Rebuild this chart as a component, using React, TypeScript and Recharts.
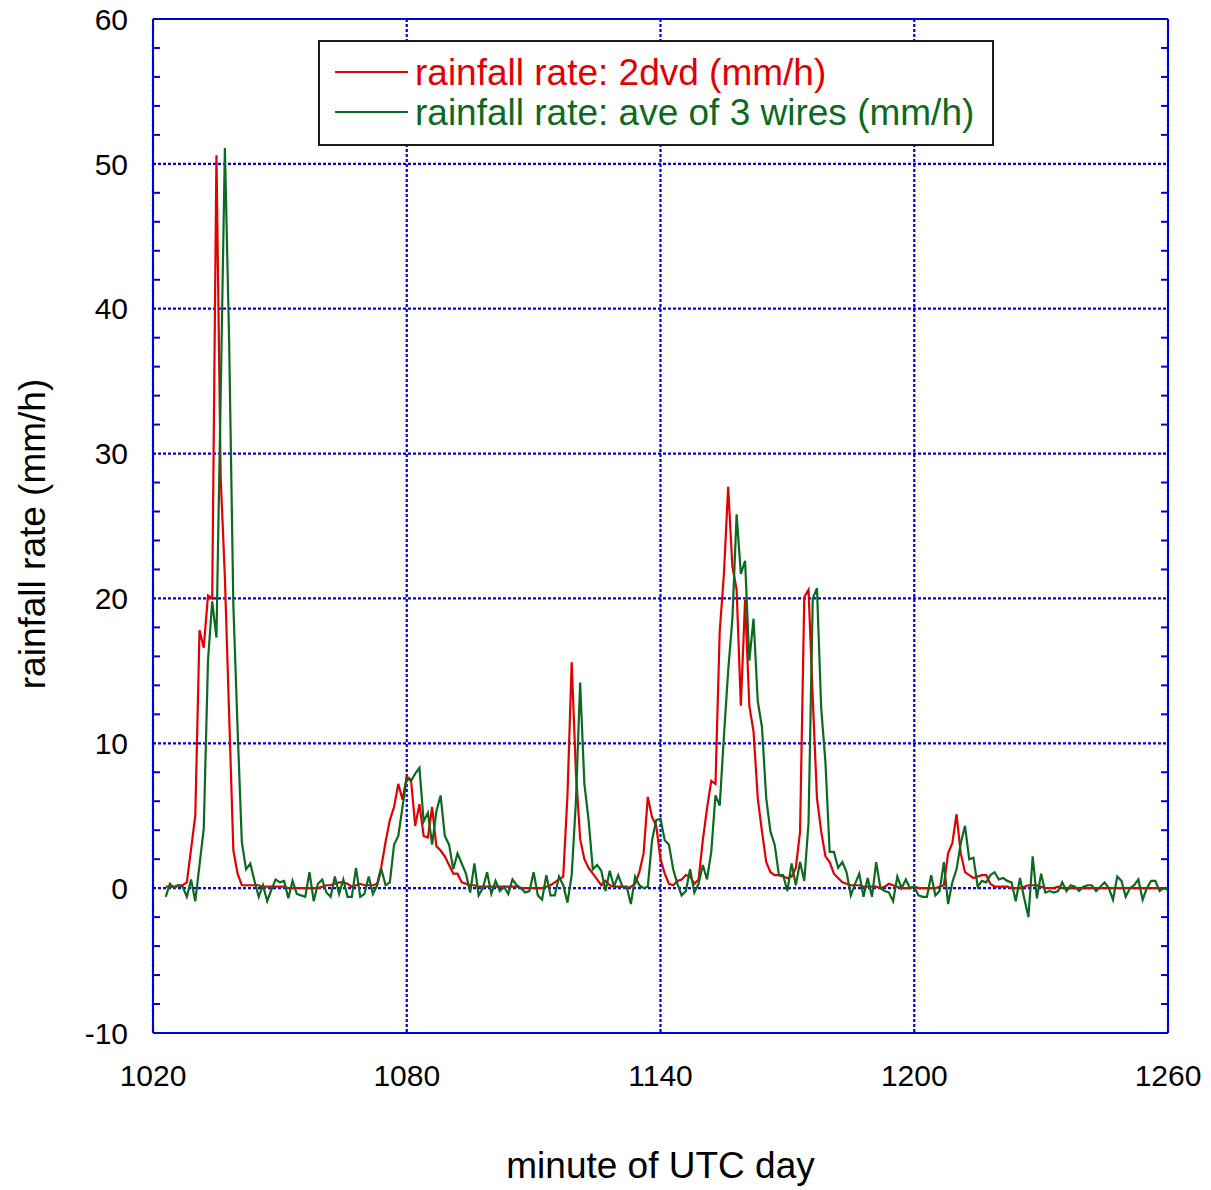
import { CartesianGrid, Label, Legend, Line, LineChart, XAxis, YAxis } from 'recharts';

// one sample per minute, starting at minute 1023 of the UTC day
const START_MINUTE = 1023;

// rainfall rate from the 2DVD (mm/h)
const RAIN_2DVD = [
  0.1, 0.1, 0.1, 0.2, 0.2, 0.4, 2.7, 5.0, 17.8, 16.6, // 1023
  20.2, 20.0, 50.6, 28.4, 21.4, 12.0, 2.6, 1.0, 0.2, 0.2, // 1033
  0.2, 0.2, 0.2, 0.1, 0.1, 0.1, 0.1, 0.1, 0.1, 0.0, // 1043
  0.0, 0.0, 0.0, 0.0, 0.0, 0.0, 0.0, 0.1, 0.2, 0.2, // 1053
  0.3, 0.4, 0.4, 0.3, 0.1, 0.2, 0.3, 0.2, 0.2, 0.2, // 1063
  0.3, 1.5, 3.2, 4.7, 5.6, 7.2, 6.1, 7.7, 7.5, 4.3, // 1073
  5.8, 3.6, 3.5, 5.6, 2.9, 2.6, 2.2, 1.6, 1.0, 1.0, // 1083
  0.4, 0.3, 0.2, 0.2, 0.1, 0.1, 0.1, 0.1, 0.1, 0.1, // 1093
  0.1, 0.1, 0.1, 0.1, 0.0, 0.0, 0.0, 0.0, 0.0, 0.0, // 1103
  0.1, 0.2, 0.4, 0.6, 0.8, 6.4, 15.6, 8.0, 3.4, 2.0, // 1113
  1.4, 1.0, 0.6, 0.2, 0.5, 0.2, 0.1, 0.1, 0.1, 0.0, // 1123
  0.1, 0.3, 1.1, 2.4, 6.3, 4.9, 4.3, 2.0, 1.0, 0.3, // 1133
  0.2, 0.5, 0.6, 0.9, 0.8, 0.3, 0.6, 3.3, 5.5, 7.4, // 1143
  7.2, 17.7, 21.7, 27.7, 22.2, 20.6, 12.6, 19.9, 12.6, 10.8, // 1153
  6.2, 3.9, 1.8, 1.1, 0.9, 0.9, 0.8, 0.7, 0.8, 1.4, // 1163
  3.9, 20.1, 20.6, 13.1, 6.2, 3.9, 2.2, 1.8, 1.0, 0.7, // 1173
  0.4, 0.3, 0.2, 0.2, 0.2, 0.1, 0.1, 0.1, 0.1, 0.0, // 1183
  0.1, 0.3, 0.2, 0.1, 0.0, 0.0, 0.0, 0.1, 0.0, 0.0, // 1193
  0.0, 0.0, 0.0, 0.1, 0.2, 2.4, 3.1, 5.1, 2.4, 1.1, // 1203
  0.9, 0.7, 0.8, 0.9, 0.9, 0.3, 0.1, 0.1, 0.1, 0.1, // 1213
  0.0, 0.0, 0.0, 0.1, 0.2, 0.2, 0.2, 0.1, 0.0, 0.0, // 1223
  0.0, 0.1, 0.0, 0.0, 0.0, 0.0, 0.0, 0.0, 0.0, 0.0, // 1233
  0.0, 0.0, 0.0, 0.0, 0.0, 0.0, 0.0, 0.0, 0.0, 0.0, // 1243
  0.0, 0.0, 0.0, 0.0, 0.0, 0.0, 0.0, 0.0, // 1253
];

// rainfall rate, average of the 3 wires (mm/h)
const RAIN_WIRES = [
  -0.6, 0.3, 0.0, 0.2, 0.1, -0.6, 0.6, -0.9, 1.6, 4.1, // 1023
  15.7, 19.8, 17.3, 34.0, 51.1, 37.8, 19.5, 11.0, 3.2, 1.3, // 1033
  1.7, 0.5, -0.6, 0.2, -0.9, -0.1, 0.6, 0.4, 0.5, -0.7, // 1043
  0.5, -0.4, -0.5, -0.6, 1.1, -0.9, 0.3, 0.6, -0.3, -0.6, // 1053
  0.8, -0.4, 0.6, -0.6, -0.6, 1.4, -0.6, -0.4, 0.8, -0.4, // 1063
  0.2, 1.3, 0.2, 0.4, 3.0, 3.6, 5.6, 7.6, 7.4, 7.9, // 1073
  8.3, 4.6, 5.2, 3.0, 5.3, 6.4, 3.6, 3.0, 1.3, 2.4, // 1083
  1.7, 1.0, -0.3, 1.7, -0.5, 0.0, 1.1, -0.4, 0.5, -0.2, // 1093
  0.1, -0.4, 0.6, 0.2, 0.0, -0.3, -0.2, 1.1, -0.5, -0.8, // 1103
  0.9, -0.5, -0.5, 0.8, 0.2, -1.0, 0.9, 6.0, 14.2, 7.2, // 1113
  4.7, 1.3, 1.6, 1.2, -0.2, 1.2, 0.1, 0.9, 0.1, 0.1, // 1123
  -1.1, 0.8, 0.2, 0.0, 0.1, 3.3, 4.7, 4.8, 3.3, 3.0, // 1133
  1.3, 0.3, -0.5, -0.2, 1.3, -0.3, 0.3, 1.6, 0.6, 2.5, // 1143
  6.4, 5.7, 10.5, 15.0, 18.6, 25.8, 21.7, 22.6, 15.7, 18.6, // 1153
  12.9, 11.1, 6.2, 3.9, 3.0, 0.9, 0.9, -0.2, 1.7, 0.2, // 1163
  1.8, 0.5, 4.5, 20.0, 20.7, 12.4, 8.7, 2.5, 2.5, 1.4, // 1173
  1.8, 1.1, -0.5, 0.3, 1.0, -0.6, 0.7, -0.6, 1.8, 0.0, // 1183
  -0.2, -0.3, -0.9, 0.8, 0.0, 0.6, 0.0, 0.1, -0.5, -0.6, // 1193
  -0.6, 0.9, -0.5, -0.2, 1.8, -1.1, 0.4, 1.3, 3.1, 4.3, // 1203
  2.0, 2.1, 0.1, 0.5, 0.4, 0.9, 1.1, 0.6, 0.7, 0.5, // 1213
  0.4, -0.9, 0.7, -0.7, -2.0, 2.2, -0.7, 1.0, -0.3, -0.2, // 1223
  -0.3, -0.2, 0.4, -0.2, 0.2, 0.1, -0.2, 0.1, 0.2, 0.2, // 1233
  -0.2, 0.1, 0.4, 0.0, -0.8, 0.8, 0.5, -0.6, 0.0, 0.2, // 1243
  0.6, -0.8, 0.0, 0.5, 0.5, -0.2, 0.0, -0.1, // 1253
];

const X_TICKS = [1020, 1080, 1140, 1200, 1260];
const X_MINOR_TICKS = [
  1030, 1040, 1050, 1060, 1070, 1090, 1100, 1110, 1120, 1130, 1150, 1160, 1170, 1180, 1190,
  1210, 1220, 1230, 1240, 1250,
];
const Y_TICKS = [-10, 0, 10, 20, 30, 40, 50, 60];
const Y_MINOR_TICKS = [
  -8, -6, -4, -2, 2, 4, 6, 8, 12, 14, 16, 18, 22, 24, 26, 28, 32, 34, 36, 38, 42, 44, 46, 48,
  52, 54, 56, 58,
];

const LEGEND_2DVD = 'rainfall rate: 2dvd (mm/h)';
const LEGEND_WIRES = 'rainfall rate: ave of 3 wires (mm/h)';

const RED = '#e20000';
const GREEN = '#0b6a1f';
const BLUE = '#0000dd';
const FONT = '"Liberation Sans", Arial, Helvetica, sans-serif';

const data = RAIN_2DVD.map((v, i) => ({
  minute: START_MINUTE + i,
  dvd: v,
  wires: RAIN_WIRES[i],
}));

// minor axes only draw their tick marks, no labels
const noLabel = () => <g />;

function LegendBox() {
  return (
    <div
      style={{
        width: 676,
        height: 106,
        boxSizing: 'border-box',
        border: '2px solid #1a1a1a',
        background: '#fff',
      }}
    >
      <svg width={672} height={102} style={{ display: 'block' }}>
        <line x1={15} x2={88} y1={30} y2={30} stroke={RED} strokeWidth={2} />
        <text x={95} y={43} fill={RED} fontSize={37} fontFamily={FONT}>
          {LEGEND_2DVD}
        </text>
        <line x1={15} x2={88} y1={70} y2={70} stroke={GREEN} strokeWidth={2} />
        <text x={95} y={83} fill={GREEN} fontSize={37} fontFamily={FONT}>
          {LEGEND_WIRES}
        </text>
      </svg>
    </div>
  );
}

export default function App() {
  const tickStyle = { fill: '#000', fontSize: 30, fontFamily: FONT };
  const minorLine = { stroke: BLUE, strokeWidth: 2 };
  const frame = { stroke: BLUE, strokeWidth: 2 };

  return (
    <div style={{ position: 'absolute', left: 0, top: 0, width: 1211, height: 1190, background: '#fff' }}>
      <LineChart
        width={1211}
        height={1190}
        data={data}
        margin={{ top: 19, right: 43, bottom: 0, left: 0 }}
      >
        <CartesianGrid stroke={BLUE} strokeWidth={2.2} strokeDasharray="3 2" />

        <XAxis
          dataKey="minute"
          type="number"
          domain={[1020, 1260]}
          ticks={X_TICKS}
          interval={0}
          height={157}
          tickLine={false}
          tickSize={0}
          tickMargin={32}
          axisLine={frame}
          tick={tickStyle}
          allowDataOverflow
        >
          <Label
            content={({ viewBox }: any) => (
              <text
                x={viewBox.x + viewBox.width / 2}
                y={viewBox.y + 145}
                textAnchor="middle"
                fontSize={37}
                fontFamily={FONT}
                fill="#000"
              >
                minute of UTC day
              </text>
            )}
          />
        </XAxis>
        <XAxis
          xAxisId="minorBottom"
          type="number"
          domain={[1020, 1260]}
          ticks={X_MINOR_TICKS}
          interval={0}
          orientation="bottom"
          mirror
          axisLine={false}
          tick={noLabel}
          tickSize={7}
          tickLine={minorLine}
          allowDataOverflow
        />
        <XAxis
          xAxisId="minorTop"
          type="number"
          domain={[1020, 1260]}
          ticks={X_MINOR_TICKS}
          interval={0}
          orientation="top"
          mirror
          axisLine={frame}
          tick={noLabel}
          tickSize={7}
          tickLine={minorLine}
          allowDataOverflow
        />

        <YAxis
          type="number"
          domain={[-10, 60]}
          ticks={Y_TICKS}
          interval={0}
          width={153}
          tickLine={false}
          tickSize={0}
          tickMargin={25}
          axisLine={frame}
          tick={tickStyle}
          allowDataOverflow
        >
          <Label
            content={({ viewBox }: any) => {
              const cx = 45;
              const cy = viewBox.y + viewBox.height / 2 + 8;
              return (
                <text
                  x={cx}
                  y={cy}
                  transform={`rotate(-90, ${cx}, ${cy})`}
                  textAnchor="middle"
                  fontSize={37}
                  fontFamily={FONT}
                  fill="#000"
                >
                  rainfall rate (mm/h)
                </text>
              );
            }}
          />
        </YAxis>
        <YAxis
          yAxisId="minorLeft"
          type="number"
          domain={[-10, 60]}
          ticks={Y_MINOR_TICKS}
          interval={0}
          orientation="left"
          mirror
          axisLine={false}
          tick={noLabel}
          tickSize={7}
          tickLine={minorLine}
          allowDataOverflow
        />
        <YAxis
          yAxisId="minorRight"
          type="number"
          domain={[-10, 60]}
          ticks={Y_MINOR_TICKS}
          interval={0}
          orientation="right"
          mirror
          axisLine={frame}
          tick={noLabel}
          tickSize={7}
          tickLine={minorLine}
          allowDataOverflow
        />

        <Legend
          layout="horizontal"
          verticalAlign="middle"
          align="center"
          content={() => <LegendBox />}
          wrapperStyle={{ left: 318, top: 40, width: 676, height: 106 }}
        />

        <Line
          type="linear"
          dataKey="dvd"
          stroke={RED}
          strokeWidth={2.2}
          dot={false}
          isAnimationActive={false}
        />
        <Line
          type="linear"
          dataKey="wires"
          stroke={GREEN}
          strokeWidth={2.2}
          dot={false}
          isAnimationActive={false}
        />
      </LineChart>
    </div>
  );
}
